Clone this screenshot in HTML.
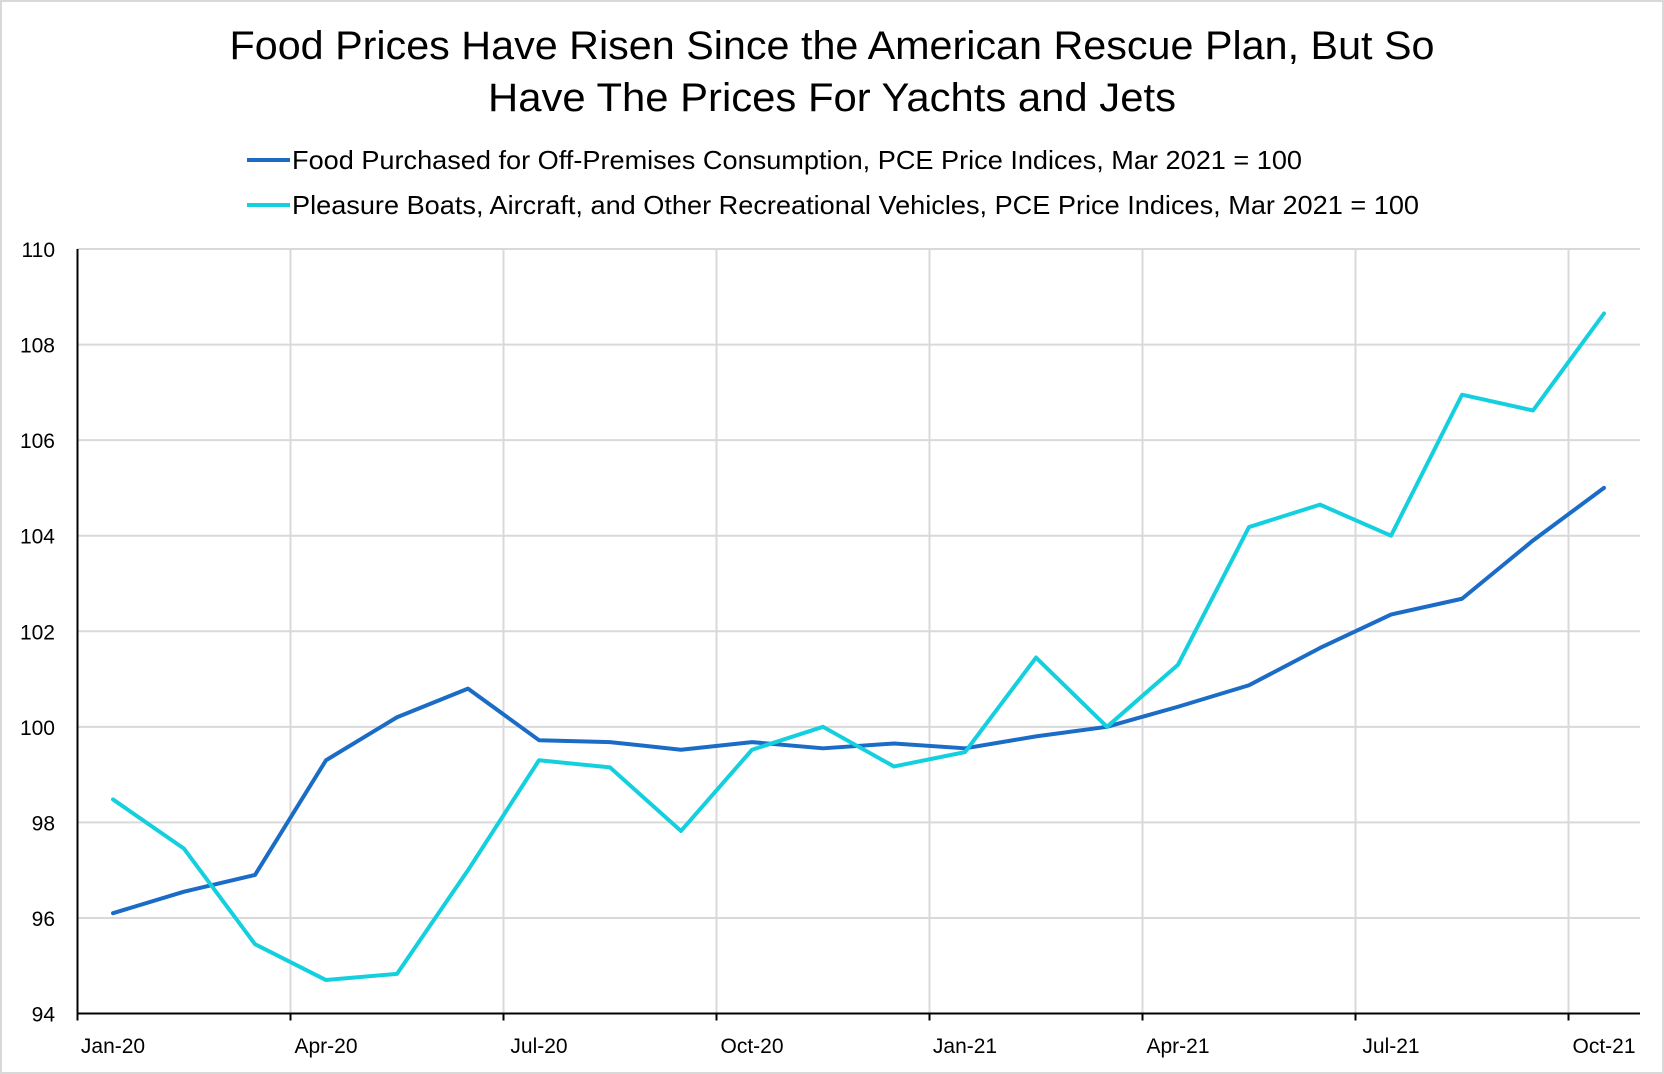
<!DOCTYPE html>
<html><head><meta charset="utf-8"><style>
body{margin:0;background:#fff;}
svg{display:block;font-family:"Liberation Sans",sans-serif;}
</style></head><body>
<svg id="chart" width="1664" height="1074" viewBox="0 0 1664 1074">
<rect x="1" y="1" width="1662" height="1072" fill="#fff" stroke="#d9d9d9" stroke-width="2"/>
<text x="832" y="59" text-anchor="middle" font-size="40" fill="#000" textLength="1205" lengthAdjust="spacingAndGlyphs">Food Prices Have Risen Since the American Rescue Plan, But So</text>
<text x="832" y="111" text-anchor="middle" font-size="40" fill="#000" textLength="688" lengthAdjust="spacingAndGlyphs">Have The Prices For Yachts and Jets</text>
<g>
<line x1="247" y1="160" x2="290" y2="160" stroke="#1a6cc6" stroke-width="4"/>
<text x="292" y="169" font-size="26" fill="#000" textLength="1010" lengthAdjust="spacingAndGlyphs">Food Purchased for Off-Premises Consumption, PCE Price Indices, Mar 2021 = 100</text>
<line x1="247" y1="205" x2="290" y2="205" stroke="#14d0df" stroke-width="4"/>
<text x="292" y="214" font-size="26" fill="#000" textLength="1127" lengthAdjust="spacingAndGlyphs">Pleasure Boats, Aircraft, and Other Recreational Vehicles, PCE Price Indices, Mar 2021 = 100</text>
</g>
<g id="grid"></g><g id="axes"></g><g id="series"></g>
</svg>
<script>
const months = ["Jan-20","Feb-20","Mar-20","Apr-20","May-20","Jun-20","Jul-20","Aug-20","Sep-20","Oct-20","Nov-20","Dec-20","Jan-21","Feb-21","Mar-21","Apr-21","May-21","Jun-21","Jul-21","Aug-21","Sep-21","Oct-21"];
const foodValues = [96.1,96.55,96.9,99.3,100.2,100.8,99.72,99.68,99.52,99.68,99.55,99.65,99.55,99.8,100,100.42,100.87,101.65,102.35,102.68,103.9,105.0];
const boatValues = [98.48,97.45,95.45,94.7,94.83,97.0,99.3,99.15,97.82,99.52,100.0,99.17,99.47,101.45,100.0,101.3,104.18,104.65,104.0,106.95,106.62,108.65];
const yTicks = [94,96,98,100,102,104,106,108,110];
const xTickLabels = ["Jan-20","Apr-20","Jul-20","Oct-20","Jan-21","Apr-21","Jul-21","Oct-21"];

const NS="http://www.w3.org/2000/svg";
const X0=77.5, MW=71.0, XR=1640, YT=249, YB=1013.5, YMIN=94, YMAX=110;
function xPos(i){return X0+(i+0.5)*MW;}
function xEdge(i){return X0+i*MW;}
function yPos(v){return YB-(v-YMIN)/(YMAX-YMIN)*(YB-YT);}
function mk(tag,attrs,parent){const e=document.createElementNS(NS,tag);for(const k in attrs)e.setAttribute(k,attrs[k]);parent.appendChild(e);return e;}
const grid=document.getElementById('grid'),axes=document.getElementById('axes'),series=document.getElementById('series');

yTicks.forEach(v=>{
  const l=mk('line',{x1:X0,x2:XR,y1:yPos(v),y2:yPos(v),stroke:'#d9d9d9','stroke-width':2},grid);
  
  
  const t=mk('text',{x:55,y:yPos(v)+8,'text-anchor':'end','font-size':21,fill:'#000'},axes);
  t.textContent=v;
  
  
});
xTickLabels.forEach((lab,k)=>{
  const i=months.indexOf(lab);
  if(k>0){
    const g=mk('line',{x1:xEdge(i),x2:xEdge(i),y1:YT,y2:YB,stroke:'#d9d9d9','stroke-width':2},grid);
    
    
  }
  const tk=mk('line',{x1:xEdge(i),x2:xEdge(i),y1:YB,y2:YB+7,stroke:'#000','stroke-width':2},axes);
  
  
  const t=mk('text',{x:xPos(i),y:1053,'text-anchor':'middle','font-size':21,fill:'#000'},axes);
  t.textContent=lab;
  
  
});
const ya=mk('line',{x1:X0,x2:X0,y1:YT,y2:YB+7,stroke:'#000','stroke-width':2},axes);


const xa=mk('line',{x1:X0,x2:XR,y1:YB,y2:YB,stroke:'#000','stroke-width':2},axes);



function drawLine(vals,color,name){
  const p=mk('polyline',{points:vals.map((v,i)=>xPos(i)+','+yPos(v)).join(' '),fill:'none',stroke:color,'stroke-width':4,'stroke-linejoin':'round','stroke-linecap':'round'},series);
  
  
}
drawLine(foodValues,'#1a6cc6','food-price-line');
drawLine(boatValues,'#14d0df','boats-aircraft-price-line');
</script>
</body></html>
